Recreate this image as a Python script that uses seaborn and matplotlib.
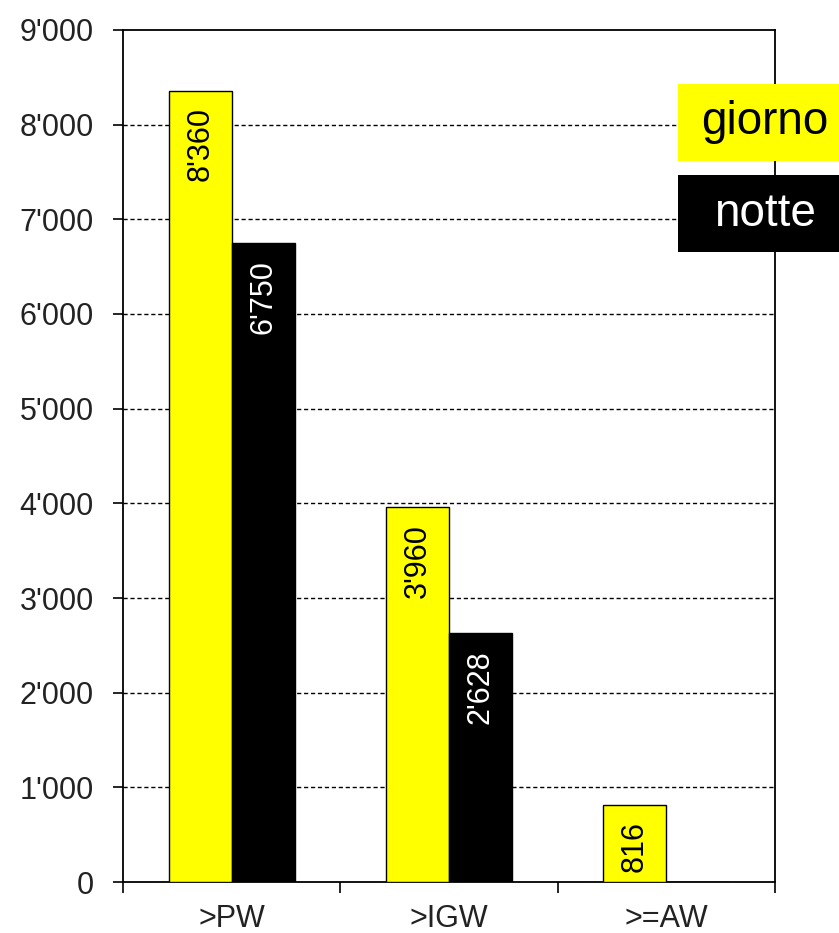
import matplotlib
matplotlib.use("Agg")
import matplotlib.pyplot as plt
import matplotlib.ticker as mticker
from matplotlib.patches import Rectangle
import seaborn as sns
import pandas as pd

categories = [">PW", ">IGW", ">=AW"]
giorno = [8360, 3960, 816]
notte = [6750, 2628, 0]
series_names = ["giorno", "notte"]
yticks = [0, 1000, 2000, 3000, 4000, 5000, 6000, 7000, 8000, 9000]

sns.set_theme(style="white")
plt.rcParams["font.family"] = ["Liberation Sans", "DejaVu Sans"]

df = pd.DataFrame({
    "cat": categories * 2,
    "val": giorno + notte,
    "series": [series_names[0]] * 3 + [series_names[1]] * 3,
})

fig = plt.figure(figsize=(8.39, 9.33), dpi=100)
ax = fig.add_axes([123 / 839, 51 / 933, (775 - 123) / 839, (882 - 30) / 933])

colors = {"giorno": "#FFFF00", "notte": "#000000"}
sns.barplot(data=df, x="cat", y="val", hue="series", order=categories,
            hue_order=series_names, palette=colors, width=0.58,
            edgecolor="black", linewidth=1, saturation=1, ax=ax,
            legend=False, zorder=3)

ax.set_xlim(-0.5, 2.5)
ax.set_ylim(0, 9000)
ax.set_yticks(yticks)
ax.yaxis.set_major_formatter(mticker.FuncFormatter(
    lambda v, p: f"{int(v):,}".replace(",", "'")))

for y in yticks[1:-1]:
    ax.axhline(y, color="black", lw=1, ls=(0, (3, 2)), zorder=1)

for s in ax.spines.values():
    s.set_color("black")
    s.set_linewidth(1.3)

ax.set_xlabel("")
ax.set_ylabel("")
ax.tick_params(axis="y", which="major", direction="out", length=7, width=1.2,
               color="black", pad=14, labelsize=22, labelcolor="#222222", left=True)
ax.tick_params(axis="x", which="major", length=0, pad=16, labelsize=22,
               labelcolor="#222222")
ax.set_xticks([-0.5, 0.5, 1.5, 2.5], minor=True)
ax.tick_params(axis="x", which="minor", direction="out", length=8, width=1.2,
               color="black", bottom=True)

txtcolors = ["black", "white"]
for cont, tc in zip(ax.containers, txtcolors):
    for bar in cont:
        h = bar.get_height()
        if h > 0:
            ax.annotate(f"{int(h):,}".replace(",", "'"),
                        xy=(bar.get_x() + bar.get_width() / 2, h),
                        xytext=(0, -12), textcoords="offset points",
                        rotation=90, ha="center", va="top",
                        fontsize=22, color=tc, zorder=5)

# legend boxes
boxes = [("giorno", "#FFFF00", "black", 84, 161),
         ("notte", "#000000", "white", 175, 252)]
for label, fc, tc, y0, y1 in boxes:
    fig.patches.append(Rectangle((678 / 839, 1 - y1 / 933), (839 - 678) / 839,
                                 (y1 - y0) / 933, transform=fig.transFigure,
                                 facecolor=fc, edgecolor="none", zorder=10))
    fig.text(765 / 839, 1 - (y0 + y1) / 2 / 933, label, ha="center",
             va="center", fontsize=33, color=tc, zorder=11)

fig.savefig("out.png", dpi=100)
